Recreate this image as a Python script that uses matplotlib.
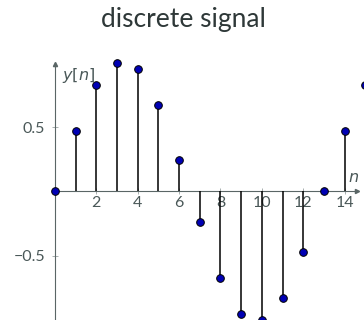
import numpy as np
import matplotlib.pyplot as plt

# samples of the signal
n = [0, 1, 2, 3, 4, 5, 6, 7, 8, 9, 10, 11, 12, 13, 14, 15]
y = [0, 0.47, 0.83, 1.0, 0.95, 0.67, 0.24, -0.24, -0.67, -0.95, -1.0, -0.83, -0.47, 0, 0.47, 0.83]
xticks = [2, 4, 6, 8, 10, 12, 14]
yticks = [-0.5, 0.5]

axis_col = "#5a6666"
tick_col = "#9aa2a2"
text_col = "#4a5858"

plt.rcParams["font.family"] = ["Lato", "DejaVu Sans"]

fig = plt.figure(figsize=(3.64, 3.2), dpi=100)
ax = fig.add_axes([55 / 364, 0, (357 - 55) / 364, 256 / 320])
ax.set_xlim(0, 14.6)
ax.set_ylim(-1.0, 0.99)

for s in ["top", "right"]:
    ax.spines[s].set_visible(False)
ax.spines["bottom"].set_position(("data", 0))
ax.spines["left"].set_position(("data", 0))
for s in ["bottom", "left"]:
    ax.spines[s].set_color(axis_col)
    ax.spines[s].set_linewidth(0.8)

# arrow heads
ax.plot(1, 0, marker=">", ms=3, color=axis_col, transform=ax.get_yaxis_transform(), clip_on=False)
ax.plot(0, 1, marker="^", ms=3, color=axis_col, transform=ax.get_xaxis_transform(), clip_on=False)

ax.set_xticks(xticks)
ax.set_yticks(yticks)
ax.set_yticklabels(["\u22120.5", "0.5"])
ax.tick_params(direction="inout", length=4, width=0.6, color=tick_col,
               labelcolor=text_col, labelsize=11.5)
ax.tick_params(axis="x", pad=1)
ax.tick_params(axis="y", pad=5)

stems = ax.vlines(n, 0, y, colors="black", linewidth=1.1, zorder=3)
stems.set_clip_on(False)
ax.plot(n, y, "o", color="#0000b4", mec="black", mew=0.7, ms=5.5, zorder=4, clip_on=False)

ax.text(0.35, 0.9, "$y[n]$", fontsize=11.5, color=text_col, ha="left", va="center")
ax.text(14.45, 0.1, "$n$", fontsize=11.5, color=text_col, ha="center", va="center")

fig.text(0.505, 0.94, "discrete signal", ha="center", va="center", fontsize=19, color="#2e3838")

fig.savefig("out.png", dpi=100)
